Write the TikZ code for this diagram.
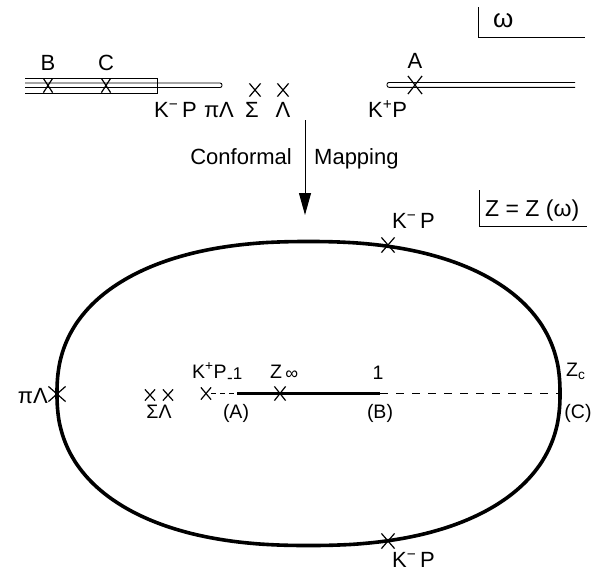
\documentclass[tikz,border=0pt]{standalone}
\usepackage{fontspec}
\setmainfont{Liberation Sans}
\usetikzlibrary{shapes.misc,arrows.meta}
\begin{document}
\begin{tikzpicture}[x=1pt,y=-1pt,
  lbl/.style={font=\fontsize{22}{26}\selectfont, inner sep=0pt},
  lbls/.style={font=\fontsize{19.5}{23}\selectfont, inner sep=0pt},
  xm/.style={draw, cross out, inner sep=0pt, line width=1.2pt},
  cutline/.style={line width=0.9pt},
  thickline/.style={line width=3.6pt},
  frameline/.style={line width=1pt}]
\useasboundingbox (0,0) rectangle (595,571);

% ---------- omega plane ----------
\draw[frameline] (478,7) -- (478,37) -- (585,37);
\node[font=\fontsize{26}{28}\selectfont, inner sep=0pt, anchor=base west] (om) at (493,27.5) {ω};

% left cuts
\draw[cutline] (25,78.5) -- (157,78.5) -- (157,93) -- (25,93);
\draw[cutline, rounded corners=2pt] (25,83) -- (222,83) -- (222,87.5) -- (25,87.5);
% right cut
\draw[cutline, rounded corners=2pt] (575,82.5) -- (387,82.5) -- (387,87.3) -- (575,87.3);

\node[xm, minimum width=8pt, minimum height=13pt] (xB) at (48,85.5) {};
\node[xm, minimum width=8pt, minimum height=13pt] (xC) at (106,85.5) {};
\node[xm, minimum width=13pt, minimum height=17pt] (xA) at (415,85) {};
\node[xm, minimum width=10pt, minimum height=12pt] (xS) at (255,90) {};
\node[xm, minimum width=10pt, minimum height=12pt] (xL) at (283,90) {};

\node[lbl, anchor=base] (lB) at (48,70) {B};
\node[lbl, anchor=base] (lC) at (106,70) {C};
\node[lbl, anchor=base] (lA) at (415,68.5) {A};
\node[lbl, anchor=base west] (lKmP) at (154,117) {K\textsuperscript{−}\,P};
\node[lbl, anchor=base] (lpiL) at (219,117) {πΛ};
\node[lbl, anchor=base] (lSig) at (252,117) {Σ};
\node[lbl, anchor=base] (lLam) at (283,117) {Λ};
\node[lbl, anchor=base west] (lKpP) at (368,117) {K\textsuperscript{+}P};

% ---------- mapping arrow ----------
\coordinate (arrS) at (305,120);
\coordinate (arrE) at (305,215);
\draw[line width=1pt, -{Triangle[length=22pt,width=12pt]}] (arrS) -- (arrE);
\node[lbl, anchor=base east] (conf) at (292,164) {Conformal};
\node[lbl, anchor=base west] (mapp) at (314,164) {Mapping};

% ---------- Z plane ----------
\draw[frameline] (479,190) -- (479,226) -- (587,226);
\node[font=\fontsize{23}{26}\selectfont, inner sep=0pt, anchor=base west] (zz) at (485,216) {Z = Z (ω)};

\draw[thickline] plot[domain=0.5:358.5, samples=180, smooth cycle]
  ({308.5+251.5*sign(cos(\x))*pow(abs(cos(\x)),0.8696)},
   {393.5+152*sign(sin(\x))*pow(abs(sin(\x)),0.8696)});

\coordinate (zc) at (560,393.5);
\node[xm, minimum width=16pt, minimum height=14pt] (xpiL) at (57,394) {};
\node[xm, minimum width=12pt, minimum height=14pt] (xTop) at (388,245) {};
\node[xm, minimum width=12pt, minimum height=14pt] (xBot) at (388,541) {};

\node[xm, minimum width=9pt, minimum height=10pt] (xS2) at (150,395) {};
\node[xm, minimum width=9pt, minimum height=10pt] (xL2) at (168,395) {};
\node[xm, minimum width=9pt, minimum height=11pt] (xK) at (206,393.5) {};
\coordinate (m1) at (237,393.5);
\coordinate (p1) at (380,393.5);
\draw[line width=1.2pt, dash pattern=on 5pt off 4pt] (xK.east) -- (m1);
\draw[thickline] (m1) -- (p1);
\draw[line width=1.3pt, dash pattern=on 8pt off 8pt] (p1) -- (zc);
\node[xm, minimum width=10pt, minimum height=13pt] (xZi) at (280,393.5) {};

\node[lbl, anchor=base west] (lKtop) at (392,228) {K\textsuperscript{−}\,P};
\node[lbl, anchor=base west] (lKbot) at (392,567) {K\textsuperscript{−}\,P};
\node[lbl, anchor=base east] (lpiL2) at (48,403) {πΛ};
\node[lbls, anchor=base west] (lKpP2) at (192,378) {K\textsuperscript{+}P};
\node[font=\fontsize{17}{19}\selectfont, inner sep=0pt, anchor=base west] (lm1) at (227,379) {\raisebox{-0.25em}{-}1};
\node[lbls, anchor=base west] (lZinf) at (270,378) {Z\,\raisebox{-0.1em}{\fontsize{18}{19}\selectfont ∞}};
\node[lbls, anchor=base] (l1) at (378,379) {1};
\node[lbls, anchor=base west] (lZc) at (566,376) {Z\textsubscript{c}};
\node[lbls, anchor=base] (lA2) at (236,418) {(A)};
\node[lbls, anchor=base] (lB2) at (380,418) {(B)};
\node[lbls, anchor=base] (lC2) at (578,418) {(C)};
\node[lbls, anchor=base] (lSL) at (159,418) {ΣΛ};
\end{tikzpicture}
\end{document}
